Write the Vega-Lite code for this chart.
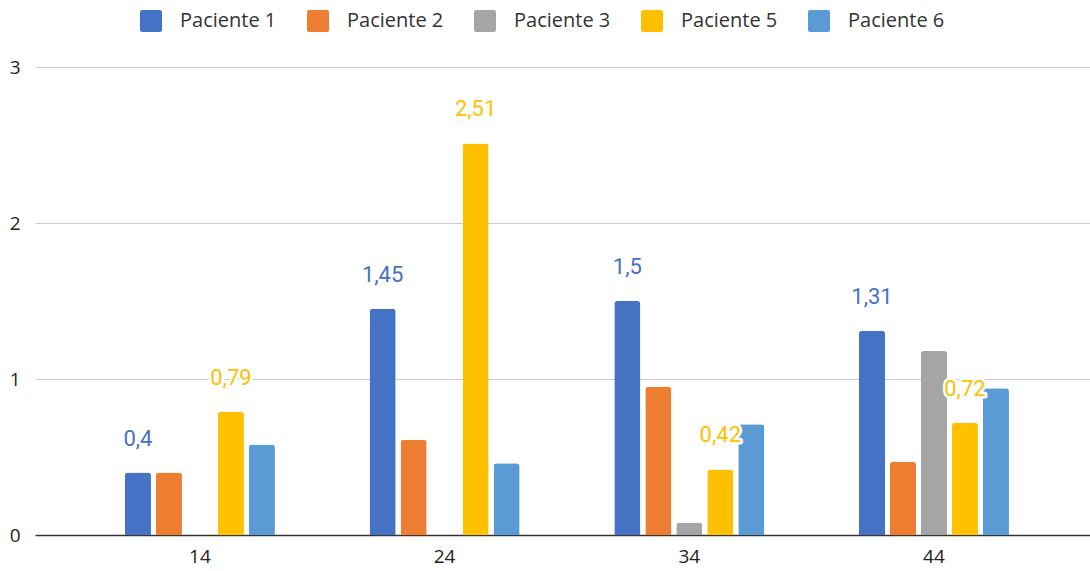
{
  "$schema": "https://vega.github.io/schema/vega-lite/v6.json",
  "autosize": "none",
  "width": 1055,
  "height": 468,
  "padding": {"left": 35, "top": 67, "right": 0, "bottom": 36},
  "background": "white",
  "config": {
    "view": {"stroke": null},
    "locale": {"number": {"decimal": ",", "thousands": ".", "grouping": [3], "currency": ["", " €"]}}
  },
  "data": {
    "values": [
      {"edad": "14", "paciente": "Paciente 1", "valor": 0.4},
      {"edad": "14", "paciente": "Paciente 2", "valor": 0.4},
      {"edad": "14", "paciente": "Paciente 5", "valor": 0.79},
      {"edad": "14", "paciente": "Paciente 6", "valor": 0.58},
      {"edad": "24", "paciente": "Paciente 1", "valor": 1.45},
      {"edad": "24", "paciente": "Paciente 2", "valor": 0.61},
      {"edad": "24", "paciente": "Paciente 5", "valor": 2.51},
      {"edad": "24", "paciente": "Paciente 6", "valor": 0.46},
      {"edad": "34", "paciente": "Paciente 1", "valor": 1.5},
      {"edad": "34", "paciente": "Paciente 2", "valor": 0.95},
      {"edad": "34", "paciente": "Paciente 3", "valor": 0.08},
      {"edad": "34", "paciente": "Paciente 5", "valor": 0.42},
      {"edad": "34", "paciente": "Paciente 6", "valor": 0.71},
      {"edad": "44", "paciente": "Paciente 1", "valor": 1.31},
      {"edad": "44", "paciente": "Paciente 2", "valor": 0.47},
      {"edad": "44", "paciente": "Paciente 3", "valor": 1.18},
      {"edad": "44", "paciente": "Paciente 5", "valor": 0.72},
      {"edad": "44", "paciente": "Paciente 6", "valor": 0.94}
    ]
  },
  "encoding": {
    "x": {
      "field": "edad", "type": "nominal",
      "scale": {"paddingInner": 0.387, "paddingOuter": 0.3494, "align": 0.526},
      "axis": {"title": null, "labelAngle": 0, "ticks": false, "labelPadding": 12, "labelFontSize": 19, "labelFont": "Open Sans", "labelColor": "#222", "domainColor": "#333", "domainWidth": 1.5, "grid": false}
    },
    "xOffset": {
      "field": "paciente", "type": "nominal",
      "scale": {"domain": ["Paciente 1", "Paciente 2", "Paciente 3", "Paciente 5", "Paciente 6"], "paddingInner": 0.16, "paddingOuter": 0}
    },
    "y": {
      "field": "valor", "type": "quantitative",
      "scale": {"domain": [0, 3], "nice": false},
      "axis": {"title": null, "values": [0, 1, 2, 3], "ticks": false, "domain": false, "labelPadding": 15, "labelFontSize": 19, "labelFont": "Open Sans", "labelColor": "#222", "gridColor": "#cccccc", "gridWidth": 1}
    }
  },
  "layer": [
    {
      "mark": {"type": "bar", "cornerRadiusTopLeft": 3, "cornerRadiusTopRight": 3},
      "encoding": {
        "color": {
          "field": "paciente", "type": "nominal",
          "scale": {"domain": ["Paciente 1", "Paciente 2", "Paciente 3", "Paciente 5", "Paciente 6"], "range": ["#4472C4", "#ED7D31", "#A5A5A5", "#FFC000", "#5B9BD5"]},
          "legend": {"title": null, "orient": "none", "direction": "horizontal", "legendX": 105, "legendY": -57, "symbolType": "M -1 -0.8 Q -1 -1 -0.8 -1 L 0.8 -1 Q 1 -1 1 -0.8 L 1 0.8 Q 1 1 0.8 1 L -0.8 1 Q -1 1 -1 0.8 Z", "symbolSize": 484, "symbolStrokeWidth": 0, "symbolOpacity": 1, "labelFontSize": 20, "labelFont": "Open Sans", "labelColor": "#333", "labelOffset": 18, "columnPadding": 30}
        }
      }
    },
    {
      "transform": [{"filter": "datum.paciente === 'Paciente 1' || datum.paciente === 'Paciente 5'"}],
      "mark": {"type": "text", "baseline": "alphabetic", "dy": -27, "fontSize": 22, "font": "Roboto", "stroke": "white", "strokeWidth": 5, "strokeJoin": "round"},
      "encoding": {
        "text": {"field": "valor", "type": "quantitative", "format": ".2~f"}
      }
    },
    {
      "transform": [{"filter": "datum.paciente === 'Paciente 1' || datum.paciente === 'Paciente 5'"}],
      "mark": {"type": "text", "baseline": "alphabetic", "dy": -27, "fontSize": 22, "font": "Roboto"},
      "encoding": {
        "text": {"field": "valor", "type": "quantitative", "format": ".2~f"},
        "color": {"field": "paciente", "type": "nominal", "legend": null}
      }
    }
  ]
}
